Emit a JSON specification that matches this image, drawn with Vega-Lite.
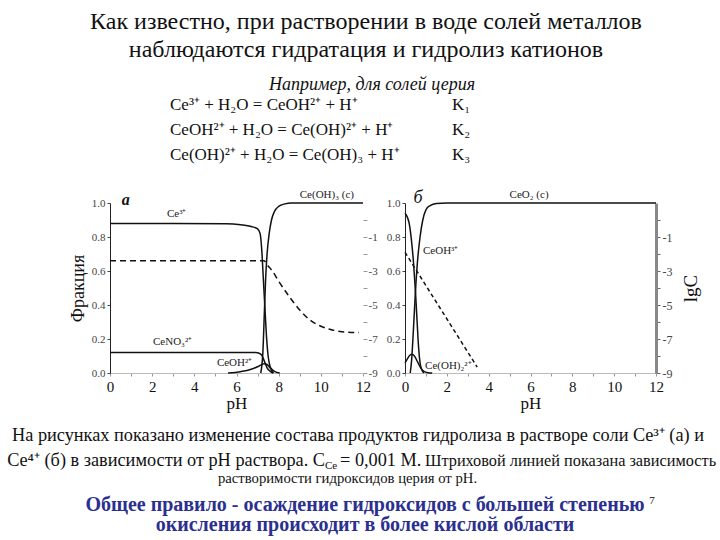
{
  "$schema": "https://vega.github.io/schema/vega-lite/v6.json",
  "padding": 0,
  "background": "white",
  "config": {"font": "Liberation Serif", "view": {"stroke": null}, "text": {"font": "Liberation Serif", "color": "#111"}, "axis": {"labelFont": "Liberation Serif", "titleFont": "Liberation Serif"}},
  "datasets": {
    "a_frac": [
      {"species": "Ce3+", "pH": 0, "frac": 0.88}, {"species": "Ce3+", "pH": 3, "frac": 0.88}, {"species": "Ce3+", "pH": 5.5, "frac": 0.878}, {"species": "Ce3+", "pH": 6.2, "frac": 0.872}, {"species": "Ce3+", "pH": 6.7, "frac": 0.862}, {"species": "Ce3+", "pH": 7.0, "frac": 0.848}, {"species": "Ce3+", "pH": 7.12, "frac": 0.82}, {"species": "Ce3+", "pH": 7.2, "frac": 0.72}, {"species": "Ce3+", "pH": 7.27, "frac": 0.56}, {"species": "Ce3+", "pH": 7.34, "frac": 0.4}, {"species": "Ce3+", "pH": 7.42, "frac": 0.22}, {"species": "Ce3+", "pH": 7.5, "frac": 0.1}, {"species": "Ce3+", "pH": 7.6, "frac": 0.035}, {"species": "Ce3+", "pH": 7.75, "frac": 0},
      {"species": "Ce(OH)3", "pH": 7.15, "frac": 0}, {"species": "Ce(OH)3", "pH": 7.25, "frac": 0.12}, {"species": "Ce(OH)3", "pH": 7.32, "frac": 0.35}, {"species": "Ce(OH)3", "pH": 7.38, "frac": 0.55}, {"species": "Ce(OH)3", "pH": 7.45, "frac": 0.7}, {"species": "Ce(OH)3", "pH": 7.55, "frac": 0.82}, {"species": "Ce(OH)3", "pH": 7.66, "frac": 0.9}, {"species": "Ce(OH)3", "pH": 7.8, "frac": 0.95}, {"species": "Ce(OH)3", "pH": 8.0, "frac": 0.98}, {"species": "Ce(OH)3", "pH": 8.3, "frac": 0.995}, {"species": "Ce(OH)3", "pH": 8.6, "frac": 1}, {"species": "Ce(OH)3", "pH": 12, "frac": 1},
      {"species": "CeNO3", "pH": 0, "frac": 0.12}, {"species": "CeNO3", "pH": 6.9, "frac": 0.12}, {"species": "CeNO3", "pH": 7.1, "frac": 0.115}, {"species": "CeNO3", "pH": 7.22, "frac": 0.1}, {"species": "CeNO3", "pH": 7.32, "frac": 0.07}, {"species": "CeNO3", "pH": 7.45, "frac": 0.03}, {"species": "CeNO3", "pH": 7.6, "frac": 0.01}, {"species": "CeNO3", "pH": 7.75, "frac": 0},
      {"species": "CeOH2+", "pH": 5.6, "frac": 0}, {"species": "CeOH2+", "pH": 6.2, "frac": 0.008}, {"species": "CeOH2+", "pH": 6.7, "frac": 0.022}, {"species": "CeOH2+", "pH": 7.05, "frac": 0.04}, {"species": "CeOH2+", "pH": 7.3, "frac": 0.055}, {"species": "CeOH2+", "pH": 7.45, "frac": 0.05}, {"species": "CeOH2+", "pH": 7.6, "frac": 0.03}, {"species": "CeOH2+", "pH": 7.8, "frac": 0.01}, {"species": "CeOH2+", "pH": 8.05, "frac": 0}
    ],
    "a_lgc": [
      {"pH": 0, "lgC": -2.4}, {"pH": 7.3, "lgC": -2.4}, {"pH": 7.5, "lgC": -2.7}, {"pH": 7.7, "lgC": -3.0}, {"pH": 8.0, "lgC": -3.6}, {"pH": 8.5, "lgC": -4.5}, {"pH": 9.0, "lgC": -5.3}, {"pH": 9.5, "lgC": -5.9}, {"pH": 10.0, "lgC": -6.25}, {"pH": 10.5, "lgC": -6.45}, {"pH": 11.0, "lgC": -6.57}, {"pH": 11.8, "lgC": -6.62}
    ],
    "a_labels": [
      {"label": "Ce³⁺", "pH": 2.7, "frac": 0.935},
      {"label": "Ce(OH)₃ (c)", "pH": 9.0, "frac": 1.05},
      {"label": "CeNO₃²⁺", "pH": 2.04, "frac": 0.18},
      {"label": "CeOH²⁺", "pH": 5.07, "frac": 0.06}
    ],
    "a_letter": [{"label": "а", "pH": 0.75, "frac": 1.02}],
    "b_frac": [
      {"species": "CeOH3+", "pH": 0, "frac": 0.94}, {"species": "CeOH3+", "pH": 0.1, "frac": 0.92}, {"species": "CeOH3+", "pH": 0.2, "frac": 0.88}, {"species": "CeOH3+", "pH": 0.3, "frac": 0.79}, {"species": "CeOH3+", "pH": 0.4, "frac": 0.66}, {"species": "CeOH3+", "pH": 0.5, "frac": 0.48}, {"species": "CeOH3+", "pH": 0.58, "frac": 0.3}, {"species": "CeOH3+", "pH": 0.65, "frac": 0.15}, {"species": "CeOH3+", "pH": 0.72, "frac": 0.06}, {"species": "CeOH3+", "pH": 0.8, "frac": 0.02}, {"species": "CeOH3+", "pH": 0.9, "frac": 0},
      {"species": "CeO2", "pH": 0.25, "frac": 0}, {"species": "CeO2", "pH": 0.32, "frac": 0.08}, {"species": "CeO2", "pH": 0.4, "frac": 0.25}, {"species": "CeO2", "pH": 0.5, "frac": 0.48}, {"species": "CeO2", "pH": 0.6, "frac": 0.66}, {"species": "CeO2", "pH": 0.72, "frac": 0.8}, {"species": "CeO2", "pH": 0.85, "frac": 0.9}, {"species": "CeO2", "pH": 1.0, "frac": 0.96}, {"species": "CeO2", "pH": 1.2, "frac": 0.985}, {"species": "CeO2", "pH": 1.5, "frac": 0.997}, {"species": "CeO2", "pH": 2, "frac": 1}, {"species": "CeO2", "pH": 12, "frac": 1},
      {"species": "Ce(OH)2", "pH": 0, "frac": 0.06}, {"species": "Ce(OH)2", "pH": 0.1, "frac": 0.08}, {"species": "Ce(OH)2", "pH": 0.2, "frac": 0.1}, {"species": "Ce(OH)2", "pH": 0.32, "frac": 0.11}, {"species": "Ce(OH)2", "pH": 0.45, "frac": 0.1}, {"species": "Ce(OH)2", "pH": 0.6, "frac": 0.065}, {"species": "Ce(OH)2", "pH": 0.75, "frac": 0.03}, {"species": "Ce(OH)2", "pH": 0.9, "frac": 0.01}, {"species": "Ce(OH)2", "pH": 1.1, "frac": 0.002}, {"species": "Ce(OH)2", "pH": 1.3, "frac": 0}
    ],
    "b_lgc": [
      {"pH": 0, "lgC": -1.9}, {"pH": 3.45, "lgC": -8.65}
    ],
    "b_labels": [
      {"label": "CeO₂ (c)", "pH": 5.0, "frac": 1.045},
      {"label": "CeOH³⁺", "pH": 0.86, "frac": 0.72},
      {"label": "Ce(OH)₂²⁺", "pH": 0.96, "frac": 0.04}
    ],
    "b_letter": [{"label": "б", "pH": 0.62, "frac": 1.03}]
  },
  "vconcat": [
    {
      "width": 720, "height": 72,
      "data": {"values": [{"t": "Как известно, при растворении в воде солей металлов\nнаблюдаются гидратация и гидролиз катионов"}]},
      "mark": {"type": "text", "font": "Liberation Serif", "lineBreak": "\n", "fontSize": 24, "lineHeight": 28, "dx": 6, "dy": -14, "color": "#111"},
      "encoding": {"text": {"field": "t"}}
    },
    {
      "width": 720, "height": 131,
      "layer": [
        {
          "data": {"values": [{"t": "Например, для солей церия"}]},
          "mark": {"type": "text", "font": "Liberation Serif", "fontSize": 18, "fontStyle": "italic", "dx": 12, "dy": -52.5},
          "encoding": {"text": {"field": "t"}}
        },
        {
          "data": {"values": [{"t": "Ce³⁺ + H₂O = CeOH²⁺  + H⁺\nCeOH²⁺ + H₂O  =  Ce(OH)²⁺ + H⁺\nCe(OH)²⁺ + H₂O  =  Ce(OH)₃ + H⁺"}]},
          "mark": {"type": "text", "font": "Liberation Serif", "lineBreak": "\n", "fontSize": 17, "lineHeight": 25, "align": "left", "dx": -190, "dy": -32.5},
          "encoding": {"text": {"field": "t"}}
        },
        {
          "data": {"values": [{"t": "K₁\nK₂\nK₃"}]},
          "mark": {"type": "text", "font": "Liberation Serif", "lineBreak": "\n", "fontSize": 17, "lineHeight": 25, "align": "left", "dx": 92, "dy": -32.5},
          "encoding": {"text": {"field": "t"}}
        }
      ]
    },
    {
      "bounds": "flush",
      "spacing": 42,
      "hconcat": [
        {"width": 68, "height": 170, "data": {"values": []}, "mark": "point", "encoding": {}},
        {
          "width": 253, "height": 170,
          "layer": [
            {
              "layer": [
                {
                  "data": {"name": "a_frac"},
                  "mark": {"type": "line", "color": "#111", "strokeWidth": 1.5, "interpolate": "monotone"},
                  "encoding": {
                    "x": {"field": "pH", "type": "quantitative", "scale": {"domain": [0, 12], "nice": false},
                      "axis": {"values": [0,1,2,3,4,5,6,7,8,9,10,11,12], "labelExpr": "datum.value % 2 ? '' : datum.label", "grid": false, "domainColor": "#bbb", "tickColor": "#999", "tickSize": 3, "labelFont": "Liberation Serif", "labelFontSize": 15, "labelColor": "#111", "labelPadding": 3, "labelFlush": false, "labelOverlap": false, "title": "pH", "titleFont": "Liberation Serif", "titleFontSize": 17, "titleFontWeight": "normal", "titleColor": "#111", "titlePadding": 1}},
                    "y": {"field": "frac", "type": "quantitative", "scale": {"domain": [0, 1], "nice": false},
                      "axis": {"values": [0, 0.2, 0.4, 0.6, 0.8, 1], "format": ".1f", "grid": false, "domainColor": "#222", "tickColor": "#444", "tickSize": 3, "labelFont": "Liberation Serif", "labelFontSize": 11, "labelColor": "#444", "labelPadding": 2, "labelOverlap": false, "labelFlush": false, "title": "Фракция", "titleFont": "Liberation Serif", "titleFontSize": 18, "titleFontWeight": "normal", "titleColor": "#111", "titlePadding": 4}},
                    "detail": {"field": "species"}
                  }
                },
                {
                  "data": {"name": "a_labels"},
                  "mark": {"type": "text", "font": "Liberation Serif", "align": "left", "fontSize": 11, "color": "#222"},
                  "encoding": {
                    "x": {"field": "pH", "type": "quantitative", "scale": {"domain": [0, 12], "nice": false},
                      "axis": {"values": [0,1,2,3,4,5,6,7,8,9,10,11,12], "labelExpr": "datum.value % 2 ? '' : datum.label", "grid": false, "domainColor": "#bbb", "tickColor": "#999", "tickSize": 3, "labelFont": "Liberation Serif", "labelFontSize": 15, "labelColor": "#111", "labelPadding": 3, "labelFlush": false, "labelOverlap": false, "title": "pH", "titleFont": "Liberation Serif", "titleFontSize": 17, "titleFontWeight": "normal", "titleColor": "#111", "titlePadding": 1}},
                    "y": {"field": "frac", "type": "quantitative", "scale": {"domain": [0, 1], "nice": false},
                      "axis": {"values": [0, 0.2, 0.4, 0.6, 0.8, 1], "format": ".1f", "grid": false, "domainColor": "#222", "tickColor": "#444", "tickSize": 3, "labelFont": "Liberation Serif", "labelFontSize": 11, "labelColor": "#444", "labelPadding": 2, "labelOverlap": false, "labelFlush": false, "title": "Фракция", "titleFont": "Liberation Serif", "titleFontSize": 18, "titleFontWeight": "normal", "titleColor": "#111", "titlePadding": 4}},
                    "text": {"field": "label"}
                  }
                },
                {
                  "data": {"name": "a_letter"},
                  "mark": {"type": "text", "font": "Liberation Serif", "fontSize": 16, "fontWeight": "bold", "fontStyle": "italic", "color": "#111"},
                  "encoding": {
                    "x": {"field": "pH", "type": "quantitative", "scale": {"domain": [0, 12], "nice": false},
                      "axis": {"values": [0,1,2,3,4,5,6,7,8,9,10,11,12], "labelExpr": "datum.value % 2 ? '' : datum.label", "grid": false, "domainColor": "#bbb", "tickColor": "#999", "tickSize": 3, "labelFont": "Liberation Serif", "labelFontSize": 15, "labelColor": "#111", "labelPadding": 3, "labelFlush": false, "labelOverlap": false, "title": "pH", "titleFont": "Liberation Serif", "titleFontSize": 17, "titleFontWeight": "normal", "titleColor": "#111", "titlePadding": 1}},
                    "y": {"field": "frac", "type": "quantitative", "scale": {"domain": [0, 1], "nice": false},
                      "axis": {"values": [0, 0.2, 0.4, 0.6, 0.8, 1], "format": ".1f", "grid": false, "domainColor": "#222", "tickColor": "#444", "tickSize": 3, "labelFont": "Liberation Serif", "labelFontSize": 11, "labelColor": "#444", "labelPadding": 2, "labelOverlap": false, "labelFlush": false, "title": "Фракция", "titleFont": "Liberation Serif", "titleFontSize": 18, "titleFontWeight": "normal", "titleColor": "#111", "titlePadding": 4}},
                    "text": {"field": "label"}
                  }
                }
              ]
            },
            {
              "data": {"name": "a_lgc"},
              "mark": {"type": "line", "color": "#111", "strokeWidth": 1.5, "strokeDash": [6, 4], "interpolate": "monotone"},
              "encoding": {
                "x": {"field": "pH", "type": "quantitative", "scale": {"domain": [0, 12], "nice": false},
                  "axis": {"values": [0,1,2,3,4,5,6,7,8,9,10,11,12], "labelExpr": "datum.value % 2 ? '' : datum.label", "grid": false, "domainColor": "#bbb", "tickColor": "#999", "tickSize": 3, "labelFont": "Liberation Serif", "labelFontSize": 15, "labelColor": "#111", "labelPadding": 3, "labelFlush": false, "labelOverlap": false, "title": "pH", "titleFont": "Liberation Serif", "titleFontSize": 17, "titleFontWeight": "normal", "titleColor": "#111", "titlePadding": 1}},
                "y": {"field": "lgC", "type": "quantitative", "scale": {"domain": [-9, 1], "nice": false},
                  "axis": {"orient": "right", "values": [-9,-8,-7,-6,-5,-4,-3,-2,-1,0], "labelExpr": "datum.value % 2 == 0 ? '' : '' + datum.value", "domain": false, "grid": false, "tickColor": "#999", "tickSize": 4, "labelFont": "Liberation Serif", "labelFontSize": 11, "labelColor": "#444", "labelPadding": 1, "labelOverlap": false, "labelFlush": false, "title": null}}
              }
            }
          ],
          "resolve": {"scale": {"y": "independent"}}
        },
        {
          "width": 251, "height": 170,
          "layer": [
            {
              "layer": [
                {
                  "data": {"name": "b_frac"},
                  "mark": {"type": "line", "color": "#111", "strokeWidth": 1.5, "interpolate": "monotone"},
                  "encoding": {
                    "x": {"field": "pH", "type": "quantitative", "scale": {"domain": [0, 12], "nice": false},
                      "axis": {"values": [0,1,2,3,4,5,6,7,8,9,10,11,12], "labelExpr": "datum.value % 2 ? '' : datum.label", "grid": false, "domainColor": "#bbb", "tickColor": "#999", "tickSize": 3, "labelFont": "Liberation Serif", "labelFontSize": 15, "labelColor": "#111", "labelPadding": 3, "labelFlush": false, "labelOverlap": false, "title": "pH", "titleFont": "Liberation Serif", "titleFontSize": 17, "titleFontWeight": "normal", "titleColor": "#111", "titlePadding": 1}},
                    "y": {"field": "frac", "type": "quantitative", "scale": {"domain": [0, 1], "nice": false},
                      "axis": {"values": [0, 0.2, 0.4, 0.6, 0.8, 1], "format": ".1f", "grid": false, "domainColor": "#222", "tickColor": "#444", "tickSize": 3, "labelFont": "Liberation Serif", "labelFontSize": 11, "labelColor": "#444", "labelPadding": 2, "labelOverlap": false, "labelFlush": false, "title": null}},
                    "detail": {"field": "species"}
                  }
                },
                {
                  "data": {"name": "b_labels"},
                  "mark": {"type": "text", "font": "Liberation Serif", "align": "left", "fontSize": 11, "color": "#222"},
                  "encoding": {
                    "x": {"field": "pH", "type": "quantitative", "scale": {"domain": [0, 12], "nice": false},
                      "axis": {"values": [0,1,2,3,4,5,6,7,8,9,10,11,12], "labelExpr": "datum.value % 2 ? '' : datum.label", "grid": false, "domainColor": "#bbb", "tickColor": "#999", "tickSize": 3, "labelFont": "Liberation Serif", "labelFontSize": 15, "labelColor": "#111", "labelPadding": 3, "labelFlush": false, "labelOverlap": false, "title": "pH", "titleFont": "Liberation Serif", "titleFontSize": 17, "titleFontWeight": "normal", "titleColor": "#111", "titlePadding": 1}},
                    "y": {"field": "frac", "type": "quantitative", "scale": {"domain": [0, 1], "nice": false},
                      "axis": {"values": [0, 0.2, 0.4, 0.6, 0.8, 1], "format": ".1f", "grid": false, "domainColor": "#222", "tickColor": "#444", "tickSize": 3, "labelFont": "Liberation Serif", "labelFontSize": 11, "labelColor": "#444", "labelPadding": 2, "labelOverlap": false, "labelFlush": false, "title": null}},
                    "text": {"field": "label"}
                  }
                },
                {
                  "data": {"name": "b_letter"},
                  "mark": {"type": "text", "font": "Liberation Serif", "fontSize": 18, "fontStyle": "italic", "color": "#111"},
                  "encoding": {
                    "x": {"field": "pH", "type": "quantitative", "scale": {"domain": [0, 12], "nice": false},
                      "axis": {"values": [0,1,2,3,4,5,6,7,8,9,10,11,12], "labelExpr": "datum.value % 2 ? '' : datum.label", "grid": false, "domainColor": "#bbb", "tickColor": "#999", "tickSize": 3, "labelFont": "Liberation Serif", "labelFontSize": 15, "labelColor": "#111", "labelPadding": 3, "labelFlush": false, "labelOverlap": false, "title": "pH", "titleFont": "Liberation Serif", "titleFontSize": 17, "titleFontWeight": "normal", "titleColor": "#111", "titlePadding": 1}},
                    "y": {"field": "frac", "type": "quantitative", "scale": {"domain": [0, 1], "nice": false},
                      "axis": {"values": [0, 0.2, 0.4, 0.6, 0.8, 1], "format": ".1f", "grid": false, "domainColor": "#222", "tickColor": "#444", "tickSize": 3, "labelFont": "Liberation Serif", "labelFontSize": 11, "labelColor": "#444", "labelPadding": 2, "labelOverlap": false, "labelFlush": false, "title": null}},
                    "text": {"field": "label"}
                  }
                }
              ]
            },
            {
              "data": {"name": "b_lgc"},
              "mark": {"type": "line", "color": "#111", "strokeWidth": 1.5, "strokeDash": [4, 3]},
              "encoding": {
                "x": {"field": "pH", "type": "quantitative", "scale": {"domain": [0, 12], "nice": false},
                  "axis": {"values": [0,1,2,3,4,5,6,7,8,9,10,11,12], "labelExpr": "datum.value % 2 ? '' : datum.label", "grid": false, "domainColor": "#bbb", "tickColor": "#999", "tickSize": 3, "labelFont": "Liberation Serif", "labelFontSize": 15, "labelColor": "#111", "labelPadding": 3, "labelFlush": false, "labelOverlap": false, "title": "pH", "titleFont": "Liberation Serif", "titleFontSize": 17, "titleFontWeight": "normal", "titleColor": "#111", "titlePadding": 1}},
                "y": {"field": "lgC", "type": "quantitative", "scale": {"domain": [-9, 1], "nice": false},
                  "axis": {"orient": "right", "values": [-9,-8,-7,-6,-5,-4,-3,-2,-1,0], "labelExpr": "datum.value % 2 == 0 ? '' : '' + datum.value", "domain": true, "domainColor": "#888", "domainWidth": 3, "grid": false, "tickColor": "#666", "tickSize": 4, "labelFont": "Liberation Serif", "labelFontSize": 12, "labelColor": "#444", "labelPadding": 2, "labelOverlap": false, "labelFlush": false, "title": "lgC", "titleFont": "Liberation Serif", "titleFontSize": 19, "titleFontWeight": "normal", "titleColor": "#111", "titleAngle": 270, "titleBaseline": "top", "titlePadding": 10}}
              }
            }
          ],
          "resolve": {"scale": {"y": "independent"}}
        }
      ]
    },
    {
      "width": 720, "height": 337,
      "layer": [
        {
          "data": {"values": [{"t": "На рисунках показано изменение состава  продуктов гидролиза в растворе соли Ce³⁺ (а) и"}]},
          "mark": {"type": "text", "font": "Liberation Serif", "fontSize": 18.3, "dx": -2, "dy": 64.5},
          "encoding": {"text": {"field": "t"}}
        },
        {
          "data": {"values": [{"t": "Ce⁴⁺ (б) в зависимости от pH раствора. C"}]},
          "mark": {"type": "text", "font": "Liberation Serif", "fontSize": 18.3, "align": "right", "dx": -35, "dy": 89.5},
          "encoding": {"text": {"field": "t"}}
        },
        {
          "data": {"values": [{"t": "Ce"}]},
          "mark": {"type": "text", "font": "Liberation Serif", "fontSize": 11, "align": "left", "dx": -35, "dy": 94.5},
          "encoding": {"text": {"field": "t"}}
        },
        {
          "data": {"values": [{"t": "= 0,001 М."}]},
          "mark": {"type": "text", "font": "Liberation Serif", "fontSize": 18.3, "align": "left", "dx": -20, "dy": 89.5},
          "encoding": {"text": {"field": "t"}}
        },
        {
          "data": {"values": [{"t": "Штриховой линией показана зависимость"}]},
          "mark": {"type": "text", "font": "Liberation Serif", "fontSize": 16.3, "align": "left", "dx": 65, "dy": 89.5},
          "encoding": {"text": {"field": "t"}}
        },
        {
          "data": {"values": [{"t": "растворимости гидроксидов церия от pH."}]},
          "mark": {"type": "text", "font": "Liberation Serif", "fontSize": 14.7, "dx": -12.5, "dy": 107.5},
          "encoding": {"text": {"field": "t"}}
        },
        {
          "data": {"values": [{"t": "Общее правило - осаждение гидроксидов с большей степенью\nокисления происходит в более кислой области"}]},
          "mark": {"type": "text", "font": "Liberation Serif", "lineBreak": "\n", "fontSize": 20, "lineHeight": 20, "fontWeight": "bold", "color": "#2b2f8f", "dx": 5, "dy": 133.5},
          "encoding": {"text": {"field": "t"}}
        },
        {
          "data": {"values": [{"t": "7"}]},
          "mark": {"type": "text", "font": "Liberation Serif", "fontSize": 11, "dx": 292, "dy": 129.5},
          "encoding": {"text": {"field": "t"}}
        }
      ]
    }
  ],
  "spacing": 0,
  "bounds": "flush"
}
